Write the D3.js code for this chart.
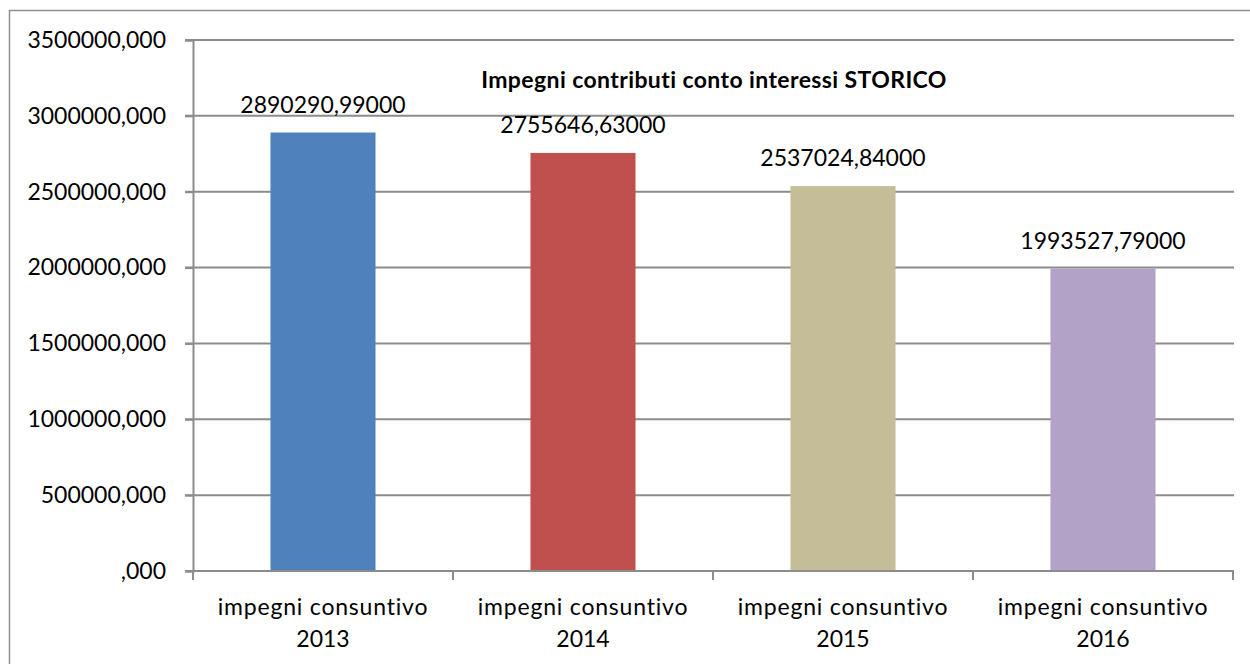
<!DOCTYPE html>
<html>
<head>
<meta charset="utf-8">
<script src="https://cdn.jsdelivr.net/npm/d3@7"></script>
<style>
  body { margin: 0; background: #fff; }
  svg { display: block; }
  text { font-family: Lato, "Open Sans", sans-serif; fill: #000; }
</style>
</head>
<body>
<div id="chart"></div>
<script>
// ------------- DATI ---------------------------
var categories = ["impegni consuntivo 2013", "impegni consuntivo 2014", "impegni consuntivo 2015", "impegni consuntivo 2016"];
var values = [2890290.99, 2755646.63, 2537024.84, 1993527.79];
var barColors = ["#4F81BD", "#C0504D", "#C4BD97", "#B3A2C7"];
var yTicks = [0, 500000, 1000000, 1500000, 2000000, 2500000, 3000000, 3500000];
var title = "Impegni contributi conto interessi STORICO";

var width = 1250;
var height = 664;

// formato italiano: virgola decimale, niente separatore migliaia
var itLocale = d3.formatLocale({ decimal: ",", thousands: "", grouping: [3], currency: ["", "€"] });
var fmtAxis = function (v) { return itLocale.format(".3f")(v).replace(/^0,/, ","); };
var fmtLabel = itLocale.format(".5f");

var svg = d3.select("#chart")
    .append("svg")
    .attr("width", width)
    .attr("height", height);

// cornice del grafico (esce a destra e in basso)
svg.append("rect")
    .attr("x", 9.5).attr("y", 10.5)
    .attr("width", width).attr("height", height)
    .attr("fill", "none")
    .attr("stroke", "#8e8e8e")
    .attr("stroke-width", 1.5);

var x = d3.scaleBand()
    .domain(categories)
    .range([193, 1233])
    .paddingInner(0.596)
    .paddingOuter(0.298);

var y = d3.scaleLinear()
    .domain([0, 3500000])
    .range([571, 40]);

// griglia orizzontale
svg.append("g")
    .selectAll("line")
    .data(yTicks)
    .enter().append("line")
    .attr("x1", 185).attr("x2", 1234)
    .attr("y1", function (d) { return y(d); })
    .attr("y2", function (d) { return y(d); })
    .attr("stroke", "#8c8c8c")
    .attr("stroke-width", 2);

// asse y
var yAxis = svg.append("g")
    .attr("transform", "translate(193,0)")
    .call(d3.axisLeft(y).tickValues(yTicks).tickFormat(fmtAxis).tickSize(8).tickPadding(19));
yAxis.select(".domain").attr("stroke", "#8c8c8c").attr("stroke-width", 2);
yAxis.selectAll(".tick line").attr("stroke", "#8c8c8c").attr("stroke-width", 2);
yAxis.selectAll(".tick text")
    .attr("font-family", "Lato, 'Open Sans', sans-serif")
    .attr("font-size", 23)
    .attr("fill", "#000");

// barre
svg.append("g")
    .selectAll("rect")
    .data(values)
    .enter().append("rect")
    .attr("x", function (d, i) { return x(categories[i]); })
    .attr("y", function (d) { return y(d); })
    .attr("width", x.bandwidth())
    .attr("height", function (d) { return y(0) - y(d); })
    .attr("fill", function (d, i) { return barColors[i]; });

// asse x (linea + tacche tra le categorie)
var bounds = categories.map(function (c) { return x(c) - x.step() * x.paddingInner() / 2; });
bounds.push(1233);
svg.append("line")
    .attr("x1", 193).attr("x2", 1234)
    .attr("y1", y(0)).attr("y2", y(0))
    .attr("stroke", "#8c8c8c").attr("stroke-width", 2);
svg.append("g")
    .selectAll("line")
    .data(bounds)
    .enter().append("line")
    .attr("x1", function (d) { return d; })
    .attr("x2", function (d) { return d; })
    .attr("y1", y(0)).attr("y2", y(0) + 9)
    .attr("stroke", "#8c8c8c").attr("stroke-width", 2);

// etichette categorie su due righe
var catLabels = svg.append("g")
    .selectAll("text")
    .data(categories)
    .enter().append("text")
    .attr("text-anchor", "middle")
    .attr("font-size", 23);
catLabels.append("tspan")
    .attr("x", function (d) { return x(d) + x.bandwidth() / 2; })
    .attr("y", 615)
    .attr("letter-spacing", 0.8)
    .text(function (d) { return d.slice(0, d.lastIndexOf(" ")); });
catLabels.append("tspan")
    .attr("x", function (d) { return x(d) + x.bandwidth() / 2; })
    .attr("y", 647)
    .text(function (d) { return d.slice(d.lastIndexOf(" ") + 1); });

// valori sopra le barre
svg.append("g")
    .selectAll("text")
    .data(values)
    .enter().append("text")
    .attr("x", function (d, i) { return x(categories[i]) + x.bandwidth() / 2; })
    .attr("y", function (d) { return y(d) - 20; })
    .attr("text-anchor", "middle")
    .attr("font-size", 23)
    .text(function (d) { return fmtLabel(d); });

// titolo
svg.append("text")
    .attr("x", 714)
    .attr("y", 88)
    .attr("text-anchor", "middle")
    .attr("font-size", 23)
    .attr("letter-spacing", 0.4)
    .attr("font-weight", "bold")
    .text(title);
</script>
</body>
</html>
